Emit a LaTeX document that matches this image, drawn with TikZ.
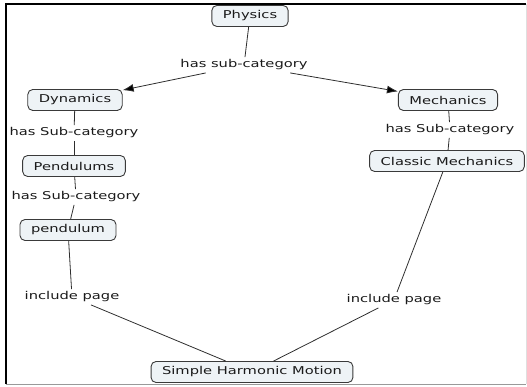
\documentclass[tikz,border=0pt]{standalone}
\usepackage{fontspec}
\setmainfont{DejaVu Sans}[FakeStretch=1.36]
\usetikzlibrary{arrows.meta}
\definecolor{boxfill}{HTML}{EEF3F6}
\definecolor{boxline}{HTML}{3A3A3A}
\definecolor{linkline}{HTML}{2E2E2E}
\definecolor{txt}{HTML}{1A1A1A}
\begin{document}
\begin{tikzpicture}[x=1pt,y=-1pt,
  concept/.style={draw=boxline, line width=0.9pt, fill=boxfill, rounded corners=5pt,
    inner xsep=11pt, inner ysep=3pt, minimum height=21pt, text=txt,
    font=\fontsize{10.8}{12}\selectfont},
  linkword/.style={inner sep=2.5pt, text=txt, font=\fontsize{10.8}{12}\selectfont},
  link/.style={draw=linkline, line width=0.8pt},
  arrowlink/.style={link, -{Latex[length=11pt,width=8pt,fill=black]}}]
  \useasboundingbox (0,0) rectangle (527,387);

  % frame
  \draw[line width=1.2pt, black] (6,384) -- (6,4) -- (526,4);
  \draw[line width=1pt, gray!80] (6,384) -- (526,384);
  \draw[line width=0.8pt, gray!25] (526,4) -- (526,384);

  % concepts
  \node[concept] (phys) at (250,16) {Physics};
  \node[concept] (dyn) at (75,100) {Dynamics};
  \node[concept] (mech) at (448,100) {Mechanics};
  \node[concept] (pends) at (74,166) {Pendulums};
  \node[concept] (pend) at (68,230) {pendulum};
  \node[concept] (classic) at (447,161) {Classic Mechanics};
  \node[concept] (shm) at (252,372) {Simple Harmonic Motion};

  % linking phrases
  \node[linkword] (l1) at (244,65) {has sub-category};
  \node[linkword] (l2) at (74,133) {has Sub-category};
  \node[linkword] (l3) at (76,197) {has Sub-category};
  \node[linkword] (l4) at (450,130) {has Sub-category};
  \node[linkword] (i1) at (72,297) {include page};
  \node[linkword] (i2) at (394,300) {include page};

  % connectors
  \draw[link] (phys) -- (l1);
  \draw[arrowlink] (l1) -- (dyn);
  \draw[arrowlink] (l1) -- (mech);
  \draw[link] (dyn) -- (l2);
  \draw[link] (l2) -- (pends);
  \draw[link] (pends) -- (l3);
  \draw[link] (l3) -- (pend);
  \draw[link] (pend) -- (i1);
  \draw[link] (i1) -- (shm);
  \draw[link] (mech) -- (l4);
  \draw[link] (l4) -- (classic);
  \draw[link] (classic) -- (i2);
  \draw[link] (i2) -- (shm);
\end{tikzpicture}
\end{document}
